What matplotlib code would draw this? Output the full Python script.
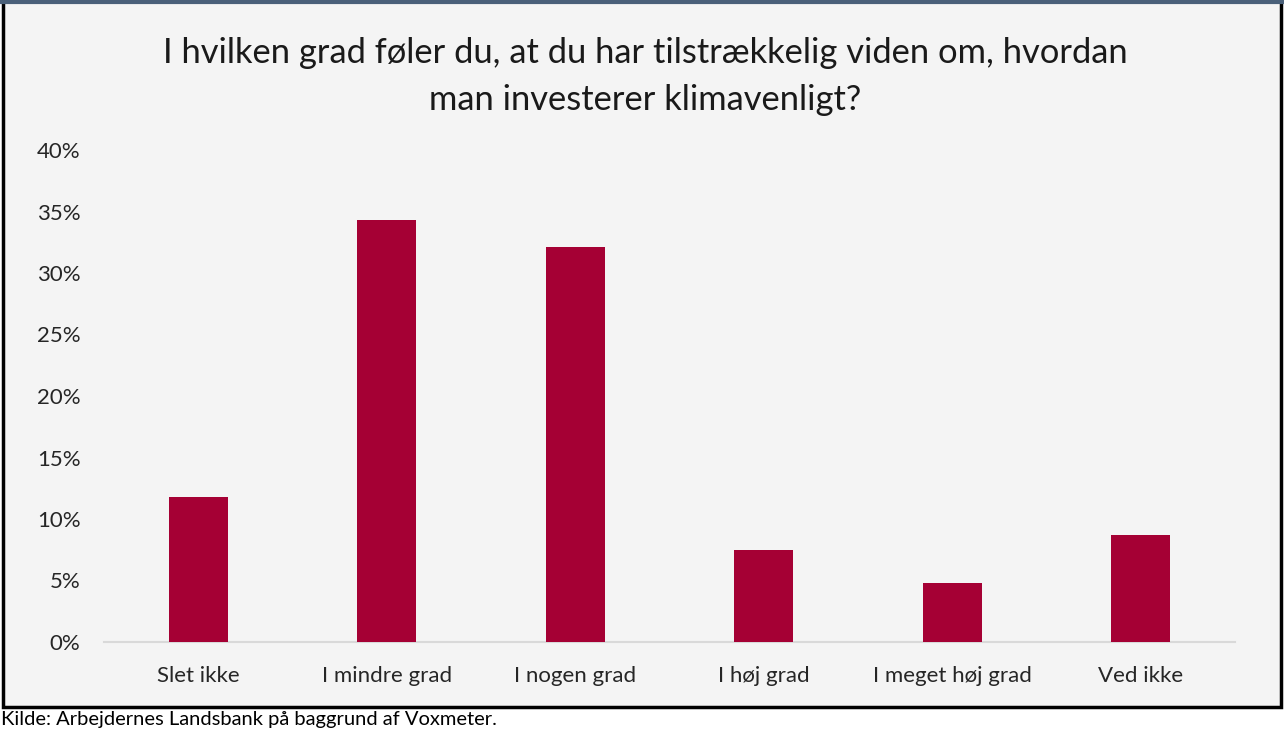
import matplotlib
matplotlib.use("Agg")
import matplotlib.pyplot as plt
from matplotlib.patches import Rectangle
from matplotlib.lines import Line2D
import numpy as np

categories = ["Slet ikke", "I mindre grad", "I nogen grad", "I høj grad", "I meget høj grad", "Ved ikke"]
values = [11.8, 34.3, 32.1, 7.5, 4.8, 8.7]
yticks = [0, 5, 10, 15, 20, 25, 30, 35, 40]
ytick_labels = [f"{v}%" for v in yticks]
title = "I hvilken grad føler du, at du har tilstrækkelig viden om, hvordan\nman investerer klimavenligt?"
source = "Kilde: Arbejdernes Landsbank på baggrund af Voxmeter."

plt.rcParams['font.family'] = ['Lato', 'DejaVu Sans']

W, H = 1284, 733
fig = plt.figure(figsize=(W / 100, H / 100), dpi=100)
fig.patch.set_facecolor("white")

# chart area background with border
bg = Rectangle((3 / W, 1 - 707 / H), (1281 - 3) / W, 706 / H, transform=fig.transFigure,
               facecolor="#f4f4f4", edgecolor="black", linewidth=2.5, zorder=-5)
fig.add_artist(bg)
fig.add_artist(Line2D([0, 1], [1 - 1.5 / H, 1 - 1.5 / H], transform=fig.transFigure,
                      color="#4a6079", linewidth=3, zorder=-4))

ax = fig.add_axes([104 / W, 1 - 642 / H, (1235 - 104) / W, (642 - 150) / H])
ax.set_zorder(2)
ax.set_facecolor("none")
x = np.arange(len(categories))
ax.bar(x, values, width=0.313, color="#a50034", zorder=3)
ax.set_xlim(-0.5, len(categories) - 0.5)
ax.set_ylim(0, 40)
ax.set_yticks(yticks)
ax.set_yticklabels(ytick_labels, fontsize=16, color="#262626")
ax.set_xticks(x)
ax.set_xticklabels(categories, fontsize=16, color="#262626")
ax.tick_params(axis="both", length=0)
ax.tick_params(axis="y", pad=17)
ax.tick_params(axis="x", pad=17.5)
for s in ["top", "right", "left"]:
    ax.spines[s].set_visible(False)
ax.spines["bottom"].set_color("#d9d9d9")
ax.spines["bottom"].set_linewidth(1.5)

fig.text(645 / W, 1 - 76.5 / H, title, ha="center", va="center", fontsize=24.8,
         color="#1a1a1a", linespacing=1.55)
fig.text(1 / W, 1 - 720 / H, source, ha="left", va="center", fontsize=14.5, color="black")

fig.savefig("out.png", dpi=100)
